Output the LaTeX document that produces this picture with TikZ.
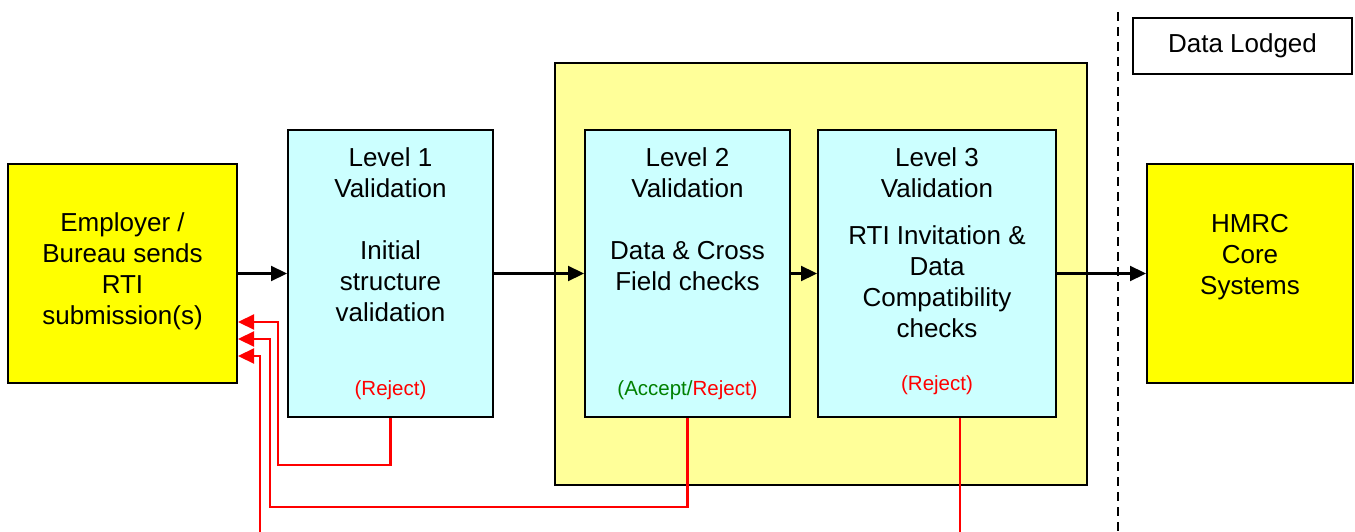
\documentclass[tikz,border=0pt]{standalone}
\usepackage{fontspec}
\setmainfont{Liberation Sans}
\usetikzlibrary{arrows.meta,positioning}
\definecolor{rtiyellow}{HTML}{FFFF00}
\definecolor{rticyan}{HTML}{CCFFFF}
\definecolor{paleyellow}{HTML}{FFFF99}
\definecolor{acceptgreen}{HTML}{008000}

\begin{document}
\begin{tikzpicture}[x=1pt,y=-1pt,>={Triangle[length=16pt,width=15pt]},font=\fontsize{26}{31}\selectfont]
		\tikzstyle{box}=[rectangle, draw=black, line width=2pt, inner sep=0pt]
		\tikzstyle{input}=[box, fill=rtiyellow, minimum width=229pt, minimum height=219pt]
		\tikzstyle{level}=[box, fill=rticyan, minimum width=205pt, minimum height=287pt]
		\tikzstyle{words}=[align=center, anchor=north, inner sep=0pt]
		\tikzstyle{outcome}=[inner sep=0pt, text=red, font=\fontsize{20.5}{24}\selectfont]
		\tikzstyle{flow}=[->, line width=2.2pt]
		\tikzstyle{reject}=[->, red, line width=2.2pt]

		\clip (0,0) rectangle (1355,532);

		\node [box, fill=paleyellow, minimum width=532pt, minimum height=422pt] (grp) at (821,274) {};
		\node [input] (emp) at (122.5,273.5) {};
		\node [level] (l1) at (390.5,273.5) {};
		\node [level] (l2) at (687.5,273.5) {};
		\node [level, minimum width=238pt] (l3) at (937,273.5) {};
		\node [input, minimum width=206pt] (hmrc) at (1250,273.5) {};
		\node [box, fill=white, line width=1.6pt, minimum width=219pt, minimum height=56pt] (lodged) at (1242.5,46) {Data Lodged};

		\node [words] (emp text) at (122.5,212) {Employer /\\Bureau sends\\RTI\\submission(s)};
		\node [words] (l1 text) at (390.5,147) {Level 1\\Validation\\[31pt]Initial\\structure\\validation};
		\node [words] (l2 text) at (687.5,147) {Level 2\\Validation\\[31pt]Data \& Cross\\Field checks};
		\node [words] (l3 text) at (937,147) {Level 3\\Validation\\[16pt]RTI Invitation \&\\Data\\Compatibility\\checks};
		\node [words] (hmrc text) at (1250,214) {HMRC\\Core\\Systems};

		\node [outcome] (l1 out) at (390.5,390) {(Reject)};
		\node [outcome] (l2 out) at (687.5,390) {\textcolor{acceptgreen}{(Accept/}Reject)};
		\node [outcome] (l3 out) at (937,385) {(Reject)};

		% main flow
		\draw [flow] (emp) -- (l1);
		\draw [flow] (l1) -- (l2);
		\draw [flow] (l2) -- (l3);
		\draw [flow] (l3) -- (hmrc);

		% rejections back to the employer
		\coordinate (r1) at (278,465);
		\coordinate (r2) at (270,507);
		\coordinate (r3) at (260,560);
		\draw [reject] (l1.south) |- (r1) |- ([yshift=-48.5pt]emp.east);
		\draw [reject] (l2.south) |- (r2) |- ([yshift=-65.5pt]emp.east);
		\draw [reject] ([xshift=23pt]l3.south) |- (r3) |- ([yshift=-82.5pt]emp.east);

		% data lodged divider
		\coordinate (div top) at (1118,12);
		\coordinate (div bot) at (1118,532);
		\draw [dash pattern=on 9pt off 6pt, line width=1.6pt] (div top) -- (div bot);
	\end{tikzpicture}
\end{document}
